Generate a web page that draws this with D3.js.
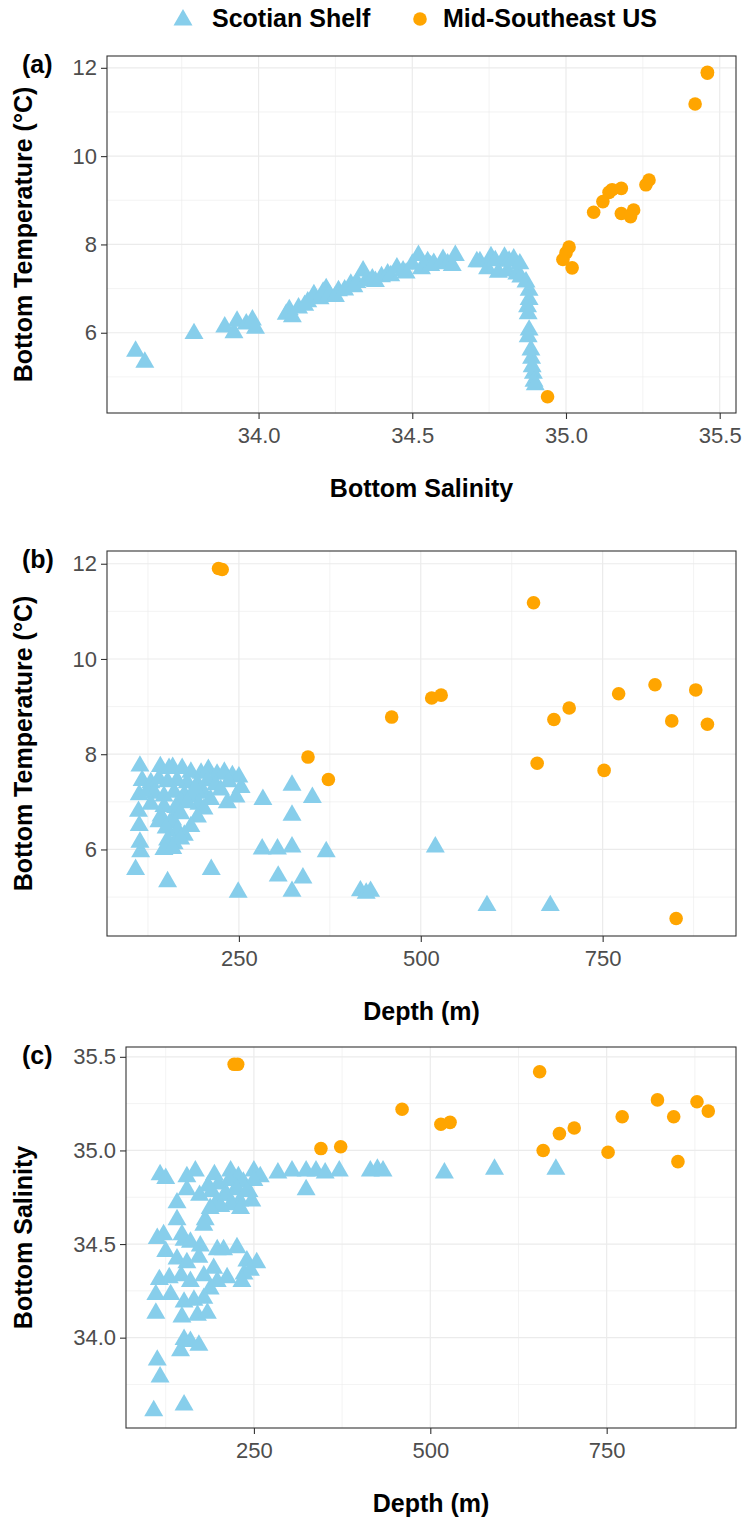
<!DOCTYPE html>
<html lang="en">
<head>
<meta charset="utf-8">
<title>bottom temperature / salinity / depth</title>
<style>
  body { margin: 0; background: #fff; }
  svg text { font-family: "Liberation Sans", Arial, sans-serif; }
</style>
</head>
<body>
<script src="https://cdn.jsdelivr.net/npm/d3@7"></script>
<script>

// Mid-Southeast US stations: depth (m), bottom temperature (°C), bottom salinity
const usDepth = [222, 227, 655, 345, 373, 460, 515, 528, 683, 704, 660, 752, 772, 822, 845, 878, 894, 851];
const usTemp  = [11.90, 11.88, 11.18, 7.94, 7.47, 8.78, 9.18, 9.24, 8.73, 8.97, 7.81, 7.66, 9.27, 9.46, 8.70, 9.35, 8.63, 4.55];
const usSal   = [35.46, 35.46, 35.42, 35.01, 35.02, 35.22, 35.14, 35.15, 35.09, 35.12, 35.00, 34.99, 35.18, 35.27, 35.18, 35.26, 35.21, 34.94];

// Scotian Shelf: (a) [salinity, temperature]
const shelfSalTemp = [
  [33.60, 5.58], [33.63, 5.33], [33.79, 5.98], [33.89, 6.13], [33.92, 6.00], [33.93, 6.26], [33.96, 6.20], [33.98, 6.29], [33.99, 6.10],
  [34.09, 6.42], [34.10, 6.52], [34.11, 6.36], [34.13, 6.56], [34.15, 6.62], [34.16, 6.70], [34.18, 6.86], [34.20, 6.77], [34.21, 6.92],
  [34.22, 7.00], [34.23, 6.86], [34.25, 6.82], [34.26, 6.95], [34.28, 6.97], [34.30, 7.10], [34.31, 7.04], [34.32, 7.14], [34.34, 7.40],
  [34.35, 7.18], [34.37, 7.22], [34.38, 7.16], [34.40, 7.27], [34.42, 7.33], [34.43, 7.29], [34.45, 7.47], [34.47, 7.40], [34.48, 7.35],
  [34.50, 7.55], [34.52, 7.75], [34.53, 7.45], [34.55, 7.61], [34.56, 7.52], [34.57, 7.57],
  [34.60, 7.66], [34.615, 7.56], [34.63, 7.52], [34.64, 7.75], [34.71, 7.61], [34.72, 7.61], [34.745, 7.45], [34.756, 7.72], [34.77, 7.63],
  [34.78, 7.37], [34.80, 7.71], [34.81, 7.40], [34.815, 7.62], [34.83, 7.67], [34.84, 7.33], [34.85, 7.56], [34.853, 7.26],
  [34.87, 7.15], [34.88, 6.96], [34.88, 6.75], [34.875, 6.59], [34.877, 6.43], [34.88, 6.06], [34.877, 5.91], [34.886, 5.61],
  [34.888, 5.42], [34.89, 5.23], [34.894, 5.08], [34.896, 4.90], [34.90, 4.82]
];

// (b) [depth, temperature]
const shelfDepthTemp = [
  [114, 7.75], [142, 7.74], [154, 7.70], [159, 7.72], [172, 7.70], [184, 7.62], [198, 7.60], [208, 7.68], [220, 7.58], [230, 7.62], [241, 7.55], [250, 7.52],
  [117, 7.45], [129, 7.40], [140, 7.48], [152, 7.42], [165, 7.45], [179, 7.40], [193, 7.38], [207, 7.44], [218, 7.36], [236, 7.42], [253, 7.30],
  [113, 7.15], [124, 7.22], [134, 7.18], [147, 7.12], [161, 7.20], [175, 7.15], [188, 7.10], [202, 7.18], [211, 7.05], [234, 6.98], [246, 7.10],
  [190, 7.28], [225, 7.25], [170, 7.02], [195, 6.95],
  [129, 6.95], [147, 6.90], [163, 6.88], [179, 6.98], [202, 6.85],
  [112, 6.80], [143, 6.70], [159, 6.62], [170, 6.75], [193, 6.68], [140, 6.58], [155, 6.55],
  [113, 6.50], [150, 6.45], [166, 6.40], [184, 6.48], [175, 6.30],
  [114, 6.15], [152, 6.20], [161, 6.12], [170, 6.22],
  [115, 5.95], [147, 6.00], [159, 6.02],
  [108, 5.58], [152, 5.32], [212, 5.58], [249, 5.10], [283, 7.05], [282, 6.01], [303, 6.01], [304, 5.44], [323, 7.35], [323, 6.72],
  [323, 6.05], [323, 5.12], [351, 7.09], [370, 5.95], [338, 5.40], [417, 5.13], [425, 5.08], [431, 5.12], [520, 6.05], [591, 4.82], [678, 4.82]
];

// (c) [depth, salinity]
const shelfDepthSal = [
  [117, 34.87], [125, 34.85], [155, 34.86], [167, 34.89], [194, 34.87], [217, 34.89], [228, 34.86], [250, 34.89], [259, 34.86],
  [284, 34.88], [304, 34.89], [324, 34.89], [338, 34.89], [351, 34.88], [371, 34.89], [415, 34.89], [425, 34.90], [433, 34.89],
  [520, 34.88], [591, 34.90], [678, 34.90], [324, 34.79],
  [200, 34.82], [215, 34.84], [225, 34.80], [235, 34.83], [243, 34.78], [208, 34.76], [230, 34.73], [250, 34.84], [190, 34.78], [185, 34.81],
  [155, 34.79], [173, 34.76], [141, 34.72], [198, 34.73], [212, 34.76], [226, 34.79], [240, 34.78], [247, 34.73], [217, 34.71],
  [231, 34.69], [203, 34.70], [188, 34.69], [179, 34.60], [141, 34.63], [181, 34.63],
  [113, 34.53], [122, 34.55], [125, 34.46], [151, 34.52], [148, 34.55], [160, 34.51], [174, 34.49], [198, 34.47], [207, 34.47],
  [226, 34.48], [240, 34.41], [254, 34.40],
  [141, 34.42], [155, 34.40], [172, 34.43], [193, 34.37], [212, 34.32], [236, 34.34], [245, 34.36],
  [116, 34.31], [130, 34.32], [147, 34.33], [160, 34.30], [179, 34.33], [188, 34.26], [198, 34.30], [233, 34.30],
  [111, 34.23], [132, 34.23], [151, 34.19], [165, 34.20], [179, 34.21],
  [111, 34.13], [148, 34.11], [170, 34.12], [184, 34.13],
  [151, 33.99], [160, 33.98], [172, 33.96], [146, 33.93],
  [113, 33.88], [117, 33.79], [108, 33.61], [151, 33.64]
];

const tempTicks = [6, 8, 10, 12];
const salTicks = [34.0, 34.5, 35.0, 35.5];
const depthTicks = [250, 500, 750];
const seriesNames = ["Scotian Shelf", "Mid-Southeast US"];
const seriesColors = ["#87CEEB", "#FFA500"];

const W = 745, H = 1521;
const svg = d3.select("body").append("svg")
  .attr("width", W)
  .attr("height", H)
  .attr("viewBox", [0, 0, W, H]);

const triangle = d3.symbol().type(d3.symbolTriangle).size(156);
const fmt1 = d3.format(".1f"), fmt0 = d3.format("d");

const panels = [
  { tag: "(a)", top: 56, bottom: 413, left: 107, shelf: shelfSalTemp,
    us: usSal.map((s, i) => [s, usTemp[i]]), xTicks: salTicks, yTicks: tempTicks,
    xFmt: fmt1, yFmt: fmt0, xTitle: "Bottom Salinity", yTitle: "Bottom Temperature (°C)" },
  { tag: "(b)", top: 551, bottom: 936, left: 107, shelf: shelfDepthTemp,
    us: usDepth.map((d, i) => [d, usTemp[i]]), xTicks: depthTicks, yTicks: tempTicks,
    xFmt: fmt0, yFmt: fmt0, xTitle: "Depth (m)", yTitle: "Bottom Temperature (°C)" },
  { tag: "(c)", top: 1047, bottom: 1428, left: 126, shelf: shelfDepthSal,
    us: usDepth.map((d, i) => [d, usSal[i]]), xTicks: depthTicks, yTicks: salTicks,
    xFmt: fmt0, yFmt: fmt1, xTitle: "Depth (m)", yTitle: "Bottom Salinity" }
];
const right = 736;

// ggplot style: 5% expansion of the data range
function expand(vals) {
  const [a, b] = d3.extent(vals);
  const p = (b - a) * 0.05;
  return [a - p, b + p];
}
// minor breaks halfway between majors, one extra each side if inside limits
function minors(ticks, dom) {
  const step = ticks[1] - ticks[0];
  const out = [];
  for (let v = ticks[0] - step / 2; v <= ticks[ticks.length - 1] + step / 2 + 1e-9; v += step) {
    if (v >= dom[0] && v <= dom[1]) out.push(v);
  }
  return out;
}

panels.forEach(drawPanel);

function drawPanel(p) {
  const all = p.shelf.concat(p.us);
  const x = d3.scaleLinear().domain(expand(all.map(d => d[0]))).range([p.left, right]);
  const y = d3.scaleLinear().domain(expand(all.map(d => d[1]))).range([p.bottom, p.top]);

  const g = svg.append("g");

  // grid
  const grid = g.append("g").attr("stroke", "#EBEBEB").attr("fill", "none");
  grid.selectAll(".vmin").data(minors(p.xTicks, x.domain())).join("line")
    .attr("x1", d => x(d)).attr("x2", d => x(d))
    .attr("y1", p.top).attr("y2", p.bottom).attr("stroke-width", 0.6);
  grid.selectAll(".hmin").data(minors(p.yTicks, y.domain())).join("line")
    .attr("x1", p.left).attr("x2", right)
    .attr("y1", d => y(d)).attr("y2", d => y(d)).attr("stroke-width", 0.6);
  grid.selectAll(".vmaj").data(p.xTicks).join("line")
    .attr("x1", d => x(d)).attr("x2", d => x(d))
    .attr("y1", p.top).attr("y2", p.bottom).attr("stroke-width", 1.2);
  grid.selectAll(".hmaj").data(p.yTicks).join("line")
    .attr("x1", p.left).attr("x2", right)
    .attr("y1", d => y(d)).attr("y2", d => y(d)).attr("stroke-width", 1.2);

  // points
  g.append("g").selectAll("path").data(p.shelf).join("path")
    .attr("d", triangle)
    .attr("transform", d => `translate(${x(d[0])},${y(d[1])})`)
    .attr("fill", seriesColors[0]);

  g.append("g").selectAll("circle").data(p.us).join("circle")
    .attr("cx", d => x(d[0]))
    .attr("cy", d => y(d[1]))
    .attr("r", 6.8)
    .attr("fill", seriesColors[1]);

  // border
  g.append("rect")
    .attr("x", p.left).attr("y", p.top)
    .attr("width", right - p.left).attr("height", p.bottom - p.top)
    .attr("fill", "none").attr("stroke", "#333333").attr("stroke-width", 1.1);

  // axes
  const xa = g.append("g")
    .attr("transform", `translate(0,${p.bottom})`)
    .call(d3.axisBottom(x).tickValues(p.xTicks).tickFormat(p.xFmt).tickSize(6).tickPadding(8));
  const ya = g.append("g")
    .attr("transform", `translate(${p.left},0)`)
    .call(d3.axisLeft(y).tickValues(p.yTicks).tickFormat(p.yFmt).tickSize(6).tickPadding(4));
  [xa, ya].forEach(a => {
    a.select(".domain").remove();
    a.attr("font-family", null).attr("font-size", null);
    a.selectAll("line").attr("stroke", "#333333").attr("stroke-width", 1.1);
    a.selectAll("text").attr("fill", "#4D4D4D").style("font-size", "22px");
  });

  // titles
  g.append("text")
    .attr("x", (p.left + right) / 2)
    .attr("y", p.bottom + 84)
    .attr("text-anchor", "middle")
    .style("font-size", "25px").style("font-weight", "bold")
    .text(p.xTitle);

  g.append("text")
    .attr("transform", `translate(32,${(p.top + p.bottom) / 2}) rotate(-90)`)
    .attr("text-anchor", "middle")
    .style("font-size", "25px").style("font-weight", "bold")
    .text(p.yTitle);

  g.append("text")
    .attr("x", 22)
    .attr("y", p.top + 17)
    .style("font-size", "25px").style("font-weight", "bold")
    .text(p.tag);
}

// legend
const legend = svg.append("g");
legend.append("path")
  .attr("d", triangle)
  .attr("transform", "translate(183,20)")
  .attr("fill", seriesColors[0]);
legend.append("circle")
  .attr("cx", 420).attr("cy", 19).attr("r", 6.8)
  .attr("fill", seriesColors[1]);
legend.selectAll("text").data(seriesNames).join("text")
  .attr("x", (d, i) => i === 0 ? 212 : 443)
  .attr("y", 27)
  .style("font-size", "25px").style("font-weight", "bold")
  .text(d => d);

</script>
</body>
</html>
